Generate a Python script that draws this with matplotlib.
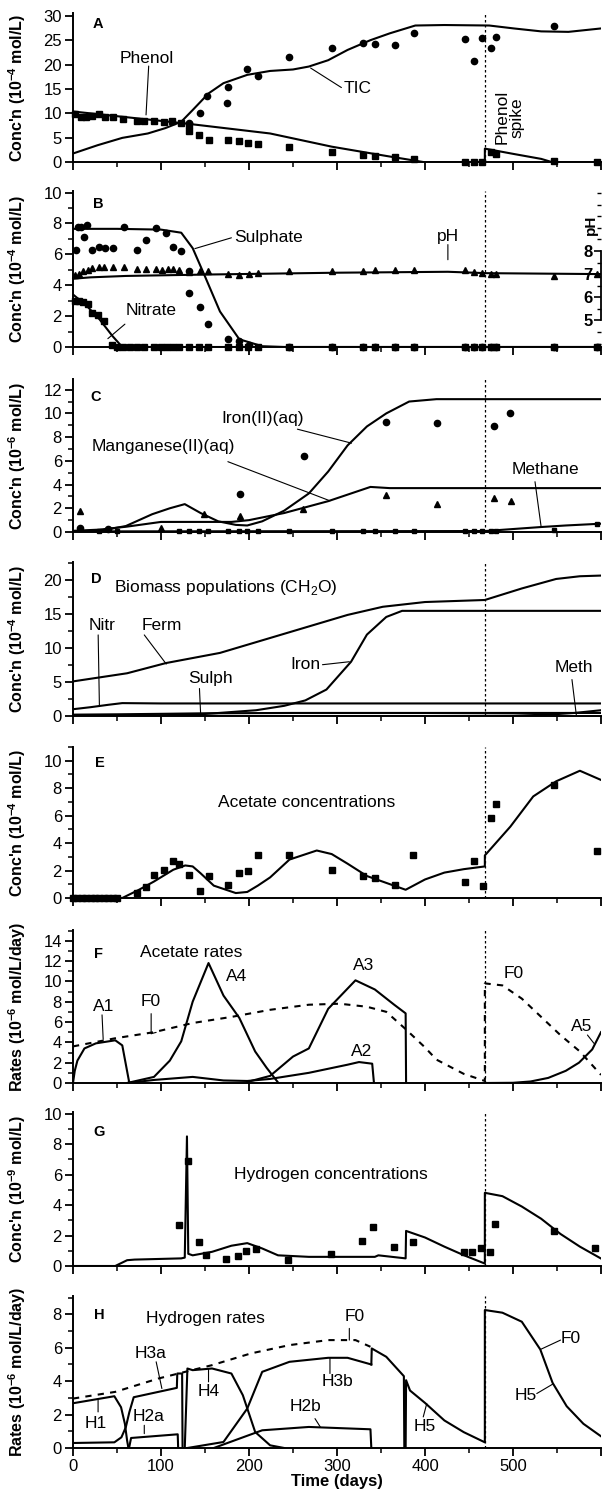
import matplotlib
matplotlib.use("Agg")
import matplotlib.pyplot as plt
from matplotlib.ticker import MultipleLocator, FuncFormatter

plt.rcParams['font.family'] = ['Liberation Sans', 'DejaVu Sans']
plt.rcParams['mathtext.fontset'] = 'custom'
plt.rcParams['mathtext.rm'] = 'Liberation Sans'
plt.rcParams['mathtext.bf'] = 'Liberation Sans:bold'

SPIKE_DAY = 468

# ---------------- A: phenol / TIC
tic_line_day = [0, 28, 56, 85, 105, 123, 136, 154, 171, 198, 224, 250, 268, 290, 312, 338, 360, 389, 422, 473, 501, 532, 563, 600]
tic_line_val = [1.8, 3.5, 5.0, 5.9, 7.0, 8.3, 10.7, 14.1, 16.2, 17.9, 18.7, 19.0, 19.6, 20.9, 23.0, 25.0, 26.4, 28.0, 28.1, 28.0, 27.4, 26.8, 26.7, 27.4]
tic_pts_day = [132, 144, 152, 175, 176, 198, 210, 246, 294, 330, 343, 366, 387, 446, 456, 465, 475, 481, 547]
tic_pts_val = [8.0, 10.0, 13.6, 12.2, 15.5, 19.0, 17.7, 21.5, 23.3, 24.5, 24.2, 24.1, 26.4, 25.2, 20.7, 25.4, 23.4, 25.6, 27.9]
phenol_line_day = [0, 130, 224, 294, 356, 400, 468, 468.01, 501, 532, 545, 600]
phenol_line_val = [10.4, 7.9, 5.9, 3.2, 1.3, 0.0, 0.0, 2.8, 1.7, 0.7, 0.0, 0.0]
phenol_pts_day = [2, 9, 15, 22, 30, 36, 46, 57, 73, 81, 92, 103, 113, 123, 132,
                  132, 143, 154, 176, 189, 199, 210, 246, 294, 330, 343, 366, 387, 446, 456, 465, 475, 481, 547, 596]
phenol_pts_val = [9.8, 9.3, 9.3, 9.5, 9.8, 9.3, 9.2, 8.9, 8.5, 8.5, 8.5, 8.3, 8.5, 8.0, 7.6,
                  6.5, 5.6, 4.6, 4.6, 4.4, 4.0, 3.7, 3.2, 2.2, 1.5, 1.2, 1.0, 0.6, 0.0, 0.0, 0.0, 2.2, 1.7, 0.3, 0.0]

# ---------------- B: sulphate / nitrate / pH
sulph_line_day = [0, 50, 100, 123, 136, 149, 167, 189, 215, 240, 600]
sulph_line_val = [7.65, 7.65, 7.6, 7.4, 6.4, 4.7, 2.3, 0.5, 0.05, 0.0, 0.0]
sulph_pts_day = [3.5, 5.7, 9, 13, 16, 22, 29.5, 36, 45, 58.5, 73, 83, 94, 105.5, 114, 123, 132, 132, 144, 153, 176, 189, 200,
                 246, 294, 330, 343, 366, 387, 446, 456, 465, 475, 481, 547, 596]
sulph_pts_val = [6.3, 7.8, 7.8, 7.1, 7.9, 6.3, 6.5, 6.4, 6.4, 7.8, 6.3, 6.9, 7.7, 7.4, 6.5, 6.2, 4.9, 3.5, 2.6, 1.5, 0.5, 0.4, 0.1,
                 0, 0, 0, 0, 0, 0, 0, 0, 0, 0, 0, 0, 0]
nitr_line_day = [0, 15, 30, 45, 56, 600]
nitr_line_val = [3.4, 2.7, 1.8, 0.7, 0.0, 0.0]
nitr_pts_day = [2, 6.6, 11, 17.6, 22, 28.6, 35, 44, 50, 57, 65, 73, 81, 92, 100, 107, 114, 121, 132, 143, 153, 176, 189, 199,
                210, 246, 294, 330, 343, 366, 387, 446, 456, 465, 475, 481, 547, 596]
nitr_pts_val = [3.0, 3.0, 2.9, 2.8, 2.2, 2.1, 1.7, 0.15] + [0.0] * 30
ph_line_day = [0, 20, 60, 150, 300, 426, 470, 600]
ph_line_val = [6.8, 6.86, 6.92, 6.98, 7.06, 7.1, 7.04, 7.0]
ph_pts_day = [2, 6.6, 11, 17.6, 22, 30, 35, 45, 58.5, 73, 83, 94, 101, 107.7, 114, 121, 132, 144, 153, 176, 189, 200, 210,
              246, 294, 330, 343, 366, 387, 446, 456, 465, 475, 481, 547, 596]
ph_pts_val = [6.97, 7.01, 7.12, 7.19, 7.25, 7.29, 7.32, 7.32, 7.29, 7.23, 7.23, 7.21, 7.19, 7.21, 7.21, 7.19, 7.09, 7.12, 7.12,
              6.99, 6.97, 6.99, 7.03, 7.12, 7.12, 7.14, 7.19, 7.19, 7.19, 7.19, 7.09, 7.04, 6.99, 6.99, 6.92, 6.99]

# ---------------- C: Fe(II), Mn(II), methane
fe_line_day = [0, 30, 60, 90, 110, 127, 145, 165, 185, 198, 215, 240, 268, 290, 312, 334, 356, 382, 413, 600]
fe_line_val = [0.05, 0.1, 0.5, 1.5, 2.0, 2.35, 1.6, 0.9, 0.6, 0.55, 0.9, 1.8, 3.25, 5.1, 7.3, 8.9, 10.0, 11.0, 11.2, 11.2]
mn_line_day = [0, 30, 61, 100, 180, 200, 240, 290, 338, 360, 600]
mn_line_val = [0.1, 0.2, 0.45, 0.85, 0.85, 1.0, 1.6, 2.6, 3.8, 3.7, 3.7]
ch4_line_day = [0, 468, 500, 532, 560, 600]
ch4_line_val = [0.05, 0.08, 0.25, 0.42, 0.55, 0.7]
fe_pts_day = [7.5, 40, 190, 262, 356, 414, 478, 497]
fe_pts_val = [0.3, 0.25, 3.2, 6.45, 9.3, 9.2, 8.9, 10.0]
mn_pts_day = [7.5, 100, 149, 190, 261.5, 356, 414, 478, 497.5]
mn_pts_val = [1.75, 0.3, 1.55, 1.36, 1.92, 3.1, 2.35, 2.9, 2.63]
ch4_pts_day = [30, 50, 120, 132, 143, 153, 176, 189, 198, 210, 246, 294, 330, 343, 366, 387, 446, 456, 465, 475, 481, 547, 596]
ch4_pts_val = [0.1] * 21 + [0.15, 0.7]

# ---------------- D: biomass populations
ferm_day = [0, 61.5, 105.5, 167, 224, 268, 312, 352, 400, 468, 510, 549, 576, 600]
ferm_val = [5.1, 6.3, 7.8, 9.3, 11.5, 13.2, 14.9, 16.1, 16.8, 17.1, 18.8, 20.2, 20.6, 20.7]
iron_bio_day = [0, 100, 150, 208, 240, 264, 288, 316, 334, 356, 374, 600]
iron_bio_val = [0.02, 0.1, 0.3, 0.85, 1.5, 2.3, 3.9, 8.0, 12.0, 14.6, 15.5, 15.5]
nitr_bio_day = [0, 20, 40, 56, 100, 600]
nitr_bio_val = [1.0, 1.3, 1.65, 1.9, 1.85, 1.85]
sulph_bio_day = [0, 50, 100, 150, 250, 600]
sulph_bio_val = [0.2, 0.25, 0.32, 0.4, 0.45, 0.45]
meth_bio_day = [0, 400, 500, 540, 570, 600]
meth_bio_val = [0.0, 0.0, 0.05, 0.2, 0.45, 0.85]

# ---------------- E: acetate concentrations
acet_line_day = [0, 56, 75, 92, 114, 127.5, 136, 145, 160, 185, 198, 210, 224, 246, 277, 294, 312, 334, 356, 378,
                 400, 422, 444, 468, 468.01, 497, 523, 549, 576, 600]
acet_line_val = [0, 0, 0.6, 1.2, 2.06, 2.37, 2.3, 1.8, 0.9, 0.36, 0.44, 0.9, 1.5, 2.8, 3.46, 3.2, 2.5, 1.6, 1.1, 0.6,
                 1.35, 1.85, 2.1, 2.3, 3.1, 5.2, 7.4, 8.5, 9.27, 8.6]
acet_pts_day = [0, 5, 10, 15, 20, 25, 30, 35, 40, 45, 50, 72.5, 82.6, 92, 103, 113.4, 121, 132, 144, 154, 176, 189, 199,
                210, 246, 294.5, 329.7, 343, 365.7, 386.8, 446, 456, 466, 474.7, 481, 547, 596]
acet_pts_val = [0] * 11 + [0.36, 0.8, 1.7, 2.06, 2.66, 2.5, 1.7, 0.53, 1.57, 0.97, 1.82, 1.94,
                           3.15, 3.15, 2.06, 1.57, 1.45, 0.97, 3.15, 1.16, 2.66, 0.85, 5.8, 6.85, 8.23, 3.4]

# ---------------- F: acetate rates
a1_day = [0, 2, 5, 13, 26, 48, 56, 64]
a1_val = [0, 1.2, 2.2, 3.4, 3.9, 4.2, 3.7, 0]
f0a_day = [0, 48, 92, 136, 180, 224, 268, 303, 334, 356, 378, 400, 413, 444, 468, 468.01, 488, 510, 532, 554, 576, 600]
f0a_val = [3.6, 4.4, 5.0, 5.9, 6.5, 7.2, 7.7, 7.8, 7.5, 7.0, 5.3, 3.5, 2.3, 0.9, 0.2, 9.8, 9.6, 8.3, 6.5, 4.7, 3.1, 0.8]
a4_day = [61.5, 92, 110, 123, 136, 154, 171, 189, 207, 220, 233]
a4_val = [0, 0.6, 2.2, 4.1, 8.0, 11.8, 8.6, 6.4, 3.1, 1.5, 0.05]
a3_day = [198, 224, 250, 268, 290, 321, 343, 365, 378, 378.5]
a3_val = [0.1, 0.7, 2.6, 3.4, 7.3, 10.1, 9.2, 7.7, 6.85, 0]
a2_day = [61.5, 92, 136, 171, 198, 224, 268, 312, 325, 340, 342]
a2_val = [0, 0.3, 0.6, 0.25, 0.2, 0.4, 1.0, 1.8, 2.06, 1.9, 0]
a5_day = [468, 500, 520, 540, 560, 575, 590, 600]
a5_val = [0, 0.02, 0.15, 0.5, 1.2, 2.0, 3.3, 5.0]

# ---------------- G: hydrogen concentrations
h2c_day = [0, 48, 61.5, 70, 123, 127, 129.5, 131, 136, 158, 180, 198, 215, 233, 268, 343, 347, 378, 378.5, 400, 422, 444,
           468, 468.01, 488, 510, 532, 554, 576, 600]
h2c_val = [0, 0, 0.38, 0.42, 0.5, 0.55, 8.5, 0.8, 0.7, 0.93, 1.33, 1.5, 1.15, 0.7, 0.6, 0.6, 0.7, 0.5, 2.3, 1.87, 1.27,
           0.71, 0.16, 4.8, 4.58, 3.9, 3.1, 2.1, 1.27, 0.49]
h2c_pts_day = [121, 130.5, 143, 151.6, 173.6, 187, 197, 208, 244, 293.6, 328.8, 340.7, 364.8, 386, 444, 453.6, 463.7, 474,
               479, 547, 593]
h2c_pts_val = [2.7, 6.9, 1.6, 0.71, 0.49, 0.67, 0.98, 1.11, 0.38, 0.76, 1.64, 2.54, 1.27, 1.6, 0.93, 0.93, 1.16, 0.93,
               2.76, 2.27, 1.16]

# ---------------- H: hydrogen rates
f0h_day = [0, 48, 97, 127.5, 158, 202, 246, 290, 321, 338]
f0h_val = [2.96, 3.36, 4.16, 4.56, 4.96, 5.66, 6.16, 6.46, 6.46, 6.06]
h1_day = [0, 47, 54.6, 59, 61.5, 63]
h1_val = [2.68, 3.1, 2.44, 1.44, 0.44, 0]
h3a_day = [0, 47, 55, 60, 64, 69, 118, 118.5, 124, 124.5]
h3a_val = [0.3, 0.34, 0.64, 1.24, 2.14, 3.04, 3.6, 4.46, 4.46, 0]
h2a_day = [62, 64, 66, 119, 119.5]
h2a_val = [0, 0.08, 0.6, 0.82, 0]
h4_day = [127, 130, 136, 158, 180, 193, 207, 224, 240]
h4_val = [0, 4.76, 4.66, 4.76, 4.46, 3.16, 0.96, 0.16, 0]
h3b_day = [130, 171, 198, 215, 246, 290, 312, 339]
h3b_val = [0, 0.36, 2.36, 4.56, 5.16, 5.4, 5.4, 5.0]
h5_day = [339, 339.5, 356, 376, 376.5, 378, 378.5, 383, 400, 422, 444, 468, 468.01, 488, 510, 531, 545, 561, 580, 600]
h5_val = [5.0, 5.96, 5.46, 4.3, 0, 0, 4.06, 3.44, 2.7, 1.65, 0.95, 0.34, 8.26, 8.1, 7.56, 5.9, 3.9, 2.5, 1.45, 0.7]
h2b_day = [160, 189, 215, 268, 338, 339]
h2b_val = [0, 0.56, 1.06, 1.26, 1.12, 0]

# pH axis mapping (right axis of panel B)
PH7_CONC = 4.72
CONC_PER_PH = 1.5

fig = plt.figure(figsize=(6.05, 14.98), dpi=100)
W, H = 605.0, 1498.0
X0, X1 = 73.0, 601.0
LW = 1.5
FS = 12.5


def panel(top, bottom, ymax, major, minor, ylabel):
    ax = fig.add_axes([X0 / W, 1 - bottom / H, (X1 - X0) / W, (bottom - top) / H])
    ax.set_xlim(0, 600)
    ax.set_ylim(0, ymax)
    ax.spines['top'].set_visible(False)
    ax.spines['right'].set_visible(False)
    for s in ('left', 'bottom'):
        ax.spines[s].set_linewidth(1.4)
    ax.xaxis.set_major_locator(MultipleLocator(100))
    ax.xaxis.set_minor_locator(MultipleLocator(50))
    ax.yaxis.set_major_locator(MultipleLocator(major))
    if minor:
        ax.yaxis.set_minor_locator(MultipleLocator(minor))
    ax.tick_params(which='major', direction='out', length=6, width=1.3, labelsize=12, pad=2)
    ax.tick_params(which='minor', direction='out', length=3.5, width=1.1)
    ax.tick_params(axis='x', labelbottom=False)
    ax.set_ylabel(ylabel, fontsize=11.5, fontweight='bold')
    ax.yaxis.set_label_coords(-0.085, 0.5)
    ax.axvline(SPIKE_DAY, color='k', lw=0.9, ls=(0, (2, 2)))
    return ax


def curve(ax, d, v, ls='-'):
    ax.plot(d, v, color='k', lw=LW, ls=ls)


def dots(ax, d, v, m, ms=4.5):
    ax.plot(d, v, m, color='k', ms=ms, clip_on=False)


def label(ax, x, y, s, **kw):
    ax.text(x, y, s, fontsize=FS, ha='center', va='center', **kw)


def letter(ax, x, y, s):
    ax.text(x, y, s, fontsize=10.5, fontweight='bold', ha='center', va='center')


def lead(ax, p0, p1):
    ax.annotate('', xy=p1, xytext=p0,
                arrowprops=dict(arrowstyle='-', lw=0.8, color='k', shrinkA=0, shrinkB=0))


conc4 = r"Conc'n (10$^{\mathbf{-4}}$ mol/L)"
rates6 = r"Rates (10$^{\mathbf{-6}}$ mol/L/day)"

# A
ax = panel(13.3, 162.3, 30.5, 5, None, conc4)
curve(ax, tic_line_day, tic_line_val)
curve(ax, phenol_line_day, phenol_line_val)
dots(ax, tic_pts_day, tic_pts_val, 'o')
dots(ax, phenol_pts_day, phenol_pts_val, 's', 4)
letter(ax, 28.5, 28.4, 'A')
label(ax, 84, 21.3, 'Phenol')
lead(ax, (86, 19.7), (83, 9.7))
label(ax, 324, 15.1, 'TIC')
lead(ax, (270, 19.3), (305, 15.3))
ax.text(496, 9.2, 'Phenol\nspike', fontsize=FS, rotation=90, ha='center', va='center', linespacing=1.05)

# B
ax = panel(191, 347, 10.1, 2, 1, conc4)
curve(ax, sulph_line_day, sulph_line_val)
curve(ax, nitr_line_day, nitr_line_val)
dots(ax, sulph_pts_day, sulph_pts_val, 'o')
dots(ax, nitr_pts_day, nitr_pts_val, 's', 4)
letter(ax, 28.5, 9.24, 'B')
label(ax, 222, 7.1, 'Sulphate')
lead(ax, (138.5, 6.37), (180, 7.07))
label(ax, 89, 2.35, 'Nitrate')
lead(ax, (59, 1.48), (39.6, 0.54))
label(ax, 426, 7.17, 'pH')
lead(ax, (426, 6.63), (426, 5.65))
axp = ax.twinx()
axp.set_ylim(7 - PH7_CONC / CONC_PER_PH, 7 + (10.1 - PH7_CONC) / CONC_PER_PH)
for s in ('left', 'top', 'bottom'):
    axp.spines[s].set_visible(False)
axp.spines['right'].set_bounds(5, 8)
axp.spines['right'].set_linewidth(1.3)
axp.set_yticks([5, 6, 7, 8])
axp.yaxis.set_minor_locator(MultipleLocator(0.5))
axp.tick_params(axis='y', which='major', direction='in', length=5, width=1.2, labelsize=12, pad=-6)
axp.tick_params(axis='y', which='minor', direction='in', length=3, width=1.0)
for t in axp.get_yticklabels():
    t.set_fontweight('bold')
    t.set_horizontalalignment('right')
axp.plot(ph_line_day, ph_line_val, color='k', lw=LW)
axp.plot(ph_pts_day, ph_pts_val, '^', color='k', ms=5, clip_on=False)
axp.text(588, 9.13, 'pH', fontsize=11, fontweight='bold', rotation=90, ha='center', va='center')

# C
ax = panel(379, 532, 12.9, 2, 1, r"Conc'n (10$^{\mathbf{-6}}$ mol/L)")
curve(ax, fe_line_day, fe_line_val)
curve(ax, mn_line_day, mn_line_val)
curve(ax, ch4_line_day, ch4_line_val)
dots(ax, fe_pts_day, fe_pts_val, 'o')
dots(ax, mn_pts_day, mn_pts_val, '^', 5)
dots(ax, ch4_pts_day, ch4_pts_val, 's', 3)
letter(ax, 26, 11.4, 'C')
label(ax, 215, 9.6, 'Iron(II)(aq)')
lead(ax, (255, 8.67), (316.5, 7.49))
label(ax, 103, 7.2, 'Manganese(II)(aq)')
lead(ax, (176, 5.93), (292, 2.63))
label(ax, 537, 5.23, 'Methane')
lead(ax, (525, 4.24), (532, 0.42))

# D
ax = panel(562, 716, 22.7, 5, 2.5, conc4)
curve(ax, ferm_day, ferm_val)
curve(ax, iron_bio_day, iron_bio_val)
curve(ax, nitr_bio_day, nitr_bio_val)
curve(ax, sulph_bio_day, sulph_bio_val)
curve(ax, meth_bio_day, meth_bio_val)
letter(ax, 26, 20.2, 'D')
label(ax, 174, 18.9, r'Biomass populations (CH$_2$O)')
label(ax, 33, 13.4, 'Nitr')
lead(ax, (28.6, 11.95), (30, 1.5))
label(ax, 101, 13.4, 'Ferm')
lead(ax, (81, 11.95), (106, 7.66))
label(ax, 156, 5.6, 'Sulph')
lead(ax, (143.7, 4.05), (145, 0.4))
label(ax, 264, 7.56, 'Iron')
lead(ax, (283.5, 7.56), (314, 8.0))
label(ax, 569, 7.17, 'Meth')
lead(ax, (567, 5.37), (572, 0.1))

# E
ax = panel(747, 898, 11, 2, 1, conc4)
curve(ax, acet_line_day, acet_line_val)
dots(ax, acet_pts_day, acet_pts_val, 's', 4)
letter(ax, 30, 9.8, 'E')
label(ax, 266, 6.97, 'Acetate concentrations')

# F
ax = panel(930, 1083, 15.05, 2, 1, rates6)
curve(ax, a1_day, a1_val)
curve(ax, f0a_day, f0a_val, ls=(0, (3, 3)))
curve(ax, a4_day, a4_val)
curve(ax, a3_day, a3_val)
curve(ax, a2_day, a2_val)
curve(ax, a5_day, a5_val)
letter(ax, 28.6, 12.65, 'F')
label(ax, 134, 12.85, 'Acetate rates')
label(ax, 35.2, 7.5, 'A1')
lead(ax, (33, 6.7), (34.3, 4.3))
label(ax, 88, 7.97, 'F0')
lead(ax, (88.8, 6.82), (88.8, 4.85))
lead(ax, (88.8, 4.85), (94.5, 4.98))
label(ax, 186, 10.46, 'A4')
label(ax, 329.7, 11.6, 'A3')
label(ax, 327.5, 3.1, 'A2')
label(ax, 501, 10.8, 'F0')
label(ax, 578, 5.54, 'A5')
lead(ax, (584.6, 4.72), (592, 3.9))

# G
ax = panel(1112, 1266, 10.1, 2, 1, r"Conc'n (10$^{\mathbf{-9}}$ mol/L)")
curve(ax, h2c_day, h2c_val)
dots(ax, h2c_pts_day, h2c_pts_val, 's', 4)
letter(ax, 30, 8.8, 'G')
label(ax, 293, 6.03, 'Hydrogen concentrations')

# H
ax = panel(1296, 1448, 9.1, 2, 1, rates6)
curve(ax, f0h_day, f0h_val, ls=(0, (3, 3)))
curve(ax, h1_day, h1_val)
curve(ax, h3a_day, h3a_val)
curve(ax, h2a_day, h2a_val)
curve(ax, h4_day, h4_val)
curve(ax, h3b_day, h3b_val)
curve(ax, h5_day, h5_val)
curve(ax, h2b_day, h2b_val)
letter(ax, 30, 7.96, 'H')
label(ax, 150, 7.76, 'Hydrogen rates')
label(ax, 320, 7.86, 'F0')
lead(ax, (314, 7.16), (314, 6.46))
label(ax, 88, 5.66, 'H3a')
lead(ax, (94.5, 5.16), (101, 3.56))
label(ax, 26.4, 1.46, 'H1')
lead(ax, (28.5, 2.16), (28.5, 2.86))
label(ax, 85.7, 1.86, 'H2a')
lead(ax, (81, 1.36), (81, 0.86))
label(ax, 154, 3.36, 'H4')
lead(ax, (154, 3.96), (154, 4.72))
label(ax, 301, 3.96, 'H3b')
lead(ax, (292, 4.46), (292, 5.36))
label(ax, 264, 2.46, 'H2b')
lead(ax, (275, 1.76), (281, 1.26))
label(ax, 400, 1.26, 'H5')
lead(ax, (398, 1.86), (402, 2.66))
label(ax, 566, 6.56, 'F0')
lead(ax, (554, 6.46), (532, 5.92))
label(ax, 514, 3.16, 'H5')
lead(ax, (527, 3.26), (545, 3.82))
ax.tick_params(axis='x', labelbottom=True)
ax.xaxis.set_major_formatter(FuncFormatter(lambda v, pos: '' if v > 550 else f'{v:.0f}'))
ax.set_xlabel('Time (days)', fontsize=12, fontweight='bold', labelpad=0)

fig.savefig('out.png', dpi=100)
